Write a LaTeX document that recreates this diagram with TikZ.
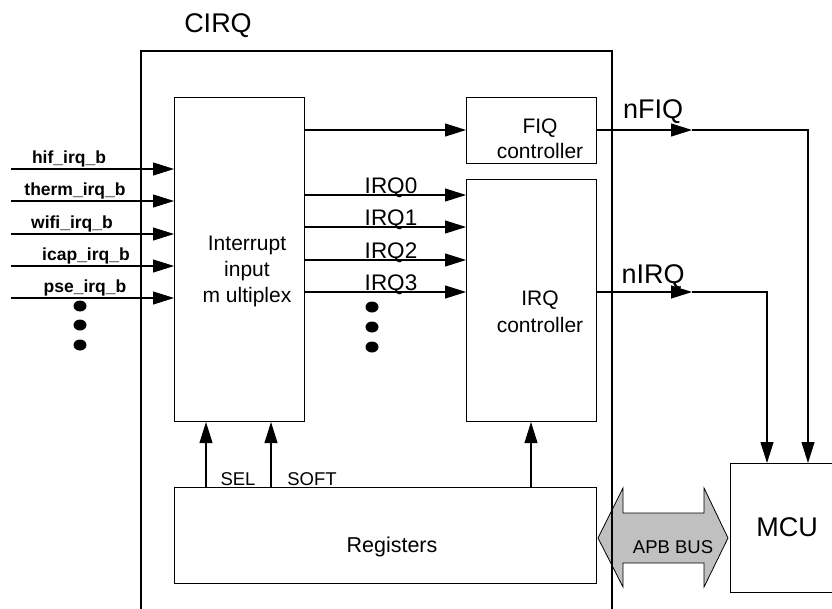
\documentclass[tikz,border=0pt]{standalone}
\usepackage{fontspec}
\setmainfont{Liberation Sans}
\usetikzlibrary{arrows.meta,shapes.geometric}
\begin{document}
\begin{tikzpicture}[x=1pt,y=-1pt,line width=1.1pt,
  box/.style={draw,rectangle,inner sep=0pt,anchor=north west},
  arr/.style={-{Triangle[length=21pt,width=13pt]}},
  txt/.style={inner sep=0pt,font=\fontsize{21}{26}\selectfont,align=center},
  sig/.style={inner sep=0pt,anchor=base,font=\fontsize{22.5}{25}\selectfont},
  inlbl/.style={inner sep=0pt,anchor=base,font=\bfseries\fontsize{17.5}{20}\selectfont},
  dot/.style={fill,ellipse,draw=none,inner sep=0pt,minimum width=13pt,minimum height=11pt}]
\clip (0,0) rectangle (832,608);
\fill[white] (0,0) rectangle (832,608);

% APB bus double arrow (drawn before CIRQ border)
\draw[fill={rgb,255:red,192;green,192;blue,192},line width=0.8pt]
  (598,538) -- (623,488) -- (623,513) -- (704,513) -- (704,488) -- (728,538)
  -- (704,587) -- (704,563) -- (623,563) -- (623,587) -- cycle;
\node[inner sep=0pt,anchor=base,font=\fontsize{18.5}{20}\selectfont] (apb) at (673,553) {APB BUS};

% CIRQ outer box
\draw (141,620) -- (141,51) -- (612,51) -- (612,620);
\node[inner sep=0pt,anchor=base,font=\fontsize{27}{30}\selectfont] (cirq) at (218,32) {CIRQ};

% Blocks
\node[box,minimum width=130pt,minimum height=324pt] (mux) at (174,97) {};
\node[txt] (muxt) at (247,271) {Interrupt\\input\\m ultiplex};
\node[box,minimum width=130pt,minimum height=66pt] (fiq) at (466,97) {};
\node[txt,font=\fontsize{21}{25}\selectfont] (fiqt) at (540,139) {FIQ\\controller};
\node[box,minimum width=130pt,minimum height=242pt] (irq) at (466,179) {};
\node[txt,font=\fontsize{21}{27}\selectfont] (irqt) at (540,312) {IRQ\\controller};
\node[box,minimum width=422pt,minimum height=96pt] (reg) at (174,487) {};
\node[sig,font=\fontsize{21.5}{25}\selectfont] (regt) at (392,552) {Registers};
\node[box,minimum width=120pt,minimum height=129pt] (mcu) at (730,463) {};
\node[sig,font=\fontsize{27}{30}\selectfont] (mcut) at (787,536) {MCU};

% Inputs
\foreach \y/\n/\t/\lx in {169/a/hif\_irq\_b/69, 201/b/therm\_irq\_b/75, 234/c/wifi\_irq\_b/72, 266/d/icap\_irq\_b/86, 298/e/pse\_irq\_b/85}{
  \coordinate (in\n) at (11,\y);
  \draw[arr] (in\n) -- (in\n -| mux.west);
  \node[inlbl] (lb\n) at (\lx,\y-6) {\t};
}
\node[dot] (d1) at (80,306) {};
\node[dot] (d2) at (80,325) {};
\node[dot] (d3) at (80,345) {};

% mux -> FIQ
\coordinate (f0) at (304,130);
\draw[arr] (f0) -- (f0 -| fiq.west);

% IRQ lines
\foreach \y/\n in {195/0, 227/1, 260/2, 292/3}{
  \coordinate (q\n) at (304,\y);
  \draw[arr] (q\n) -- (q\n -| irq.west);
  \node[sig] (ql\n) at (391,\y-2) {IRQ\n};
}
\node[dot] (e1) at (372,307) {};
\node[dot] (e2) at (372,327) {};
\node[dot] (e3) at (372,347) {};

% Registers -> blocks
\coordinate (s1) at (206,487);
\coordinate (s2) at (271,487);
\coordinate (s3) at (531,487);
\draw[arr] (s1) -- (s1 |- mux.south);
\draw[arr] (s2) -- (s2 |- mux.south);
\draw[arr] (s3) -- (s3 |- irq.south);
\node[sig,font=\fontsize{18.5}{20}\selectfont] (sel) at (238,485) {SEL};
\node[sig,font=\fontsize{18.5}{20}\selectfont] (soft) at (312,485) {SOFT};

% nFIQ
\coordinate (nf1) at (596,130);
\coordinate (nf2) at (692,130);
\coordinate (nf3) at (808,130);
\draw[arr] (nf1) -- (nf2);
\draw[arr] (nf2) -- (nf3) -- (nf3 |- mcu.north);
\node[sig,font=\fontsize{27}{30}\selectfont] (nfiq) at (653,118) {nFIQ};

% nIRQ
\coordinate (ni1) at (596,292);
\coordinate (ni2) at (692,292);
\coordinate (ni3) at (767,292);
\draw[arr] (ni1) -- (ni2);
\draw[arr] (ni2) -- (ni3) -- (ni3 |- mcu.north);
\node[sig,font=\fontsize{27}{30}\selectfont] (nirq) at (653,283) {nIRQ};
\end{tikzpicture}
\end{document}
